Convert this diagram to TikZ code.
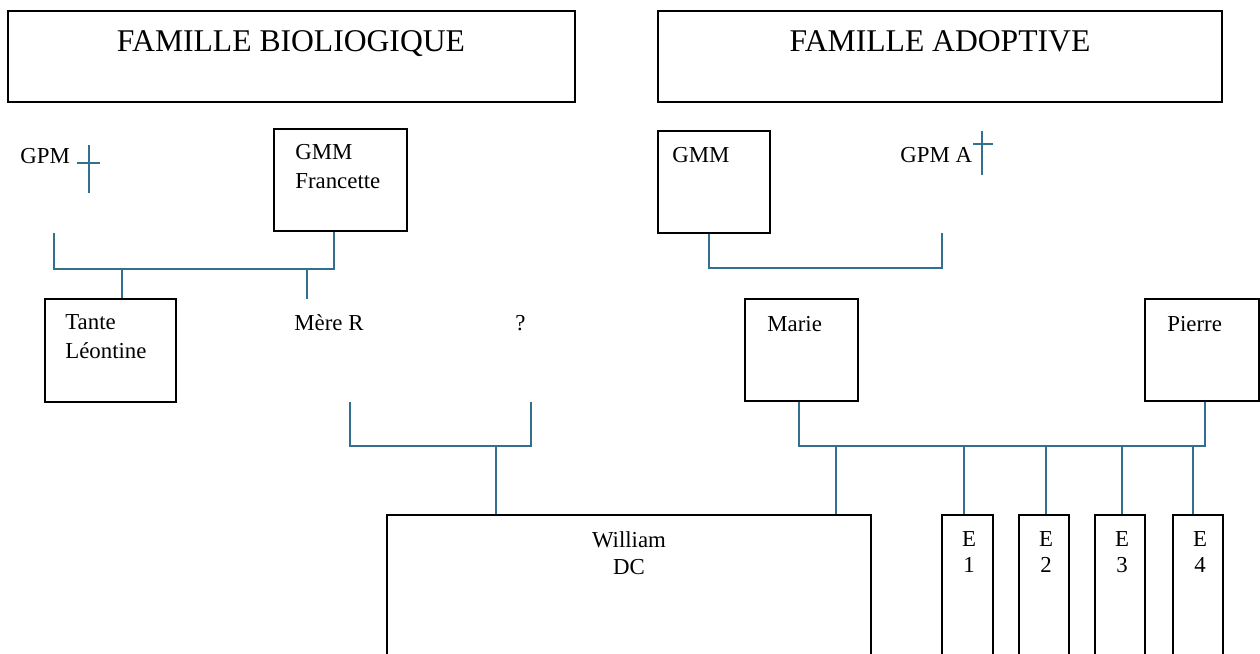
\documentclass[tikz,border=0pt]{standalone}
\usepackage{fontspec}
\setmainfont{Liberation Serif}
\usetikzlibrary{fit}
\definecolor{linkc}{RGB}{49,112,143}
\begin{document}
\begin{tikzpicture}[x=0.02cm,y=-0.02cm,
  box/.style={draw=black, line width=0.7pt, inner sep=0pt},
  link/.style={draw=linkc, line width=0.8pt},
  lbl/.style={font=\fontsize{13}{16}\selectfont, inner sep=0pt, anchor=base west, align=left},
  clbl/.style={font=\fontsize{13}{15.3}\selectfont, inner sep=0pt, anchor=base, align=center},
  elbl/.style={font=\fontsize{13}{14.3}\selectfont, inner sep=0pt, anchor=base, align=center},
  ttl/.style={font=\fontsize{18}{22}\selectfont, inner sep=0pt, anchor=base}]
\useasboundingbox (0,0) rectangle (1260,653);
% title boxes
\node[box, fit={(8,11)(575,102)}] (bio) {};
\node[ttl] (biot) at (291,51) {FAMILLE BIOLIOGIQUE};
\node[box, fit={(658,11)(1222,102)}] (ado) {};
\node[ttl] (adot) at (940,51) {FAMILLE ADOPTIVE};
% biological family
\node[lbl] (gpm) at (20,163) {GPM};
\draw[link] (89,145) -- (89,193);
\draw[link] (77,163) -- (100,163);
\node[box, fit={(274,129)(407,231)}] (gmmf) {};
\node[lbl] (gmmft) at (295,188) {GMM\\Francette};
\node[box, fit={(45,299)(176,402)}] (tante) {};
\node[lbl] (tantet) at (65,358) {Tante\\Léontine};
\node[lbl] (mere) at (294,330) {Mère R};
\node[lbl] (unk) at (515,330) {?};
\coordinate (gpmdrop) at (54,233);
\coordinate (mereup) at (307,299);
\draw[link] (gpmdrop) |- (334,269) -- (334,0 |- gmmf.south);
\draw[link] (122,269) -- (tante.north -| 122,0);
\draw[link] (307,269) -- (mereup);
\coordinate (merebot) at (350,402);
\coordinate (unkbot) at (531,402);
\draw[link] (merebot) |- (531,446) -- (unkbot);
% William
\node[box, fit={(387,515)(871,662)}] (will) {};
\node[clbl] (willt) at (629,574) {William\\DC};
\draw[link] (496,446) -- (will.north -| 496,0);
% adoptive family
\node[box, fit={(658,131)(770,233)}] (gmma) {};
\node[lbl] (gmmat) at (672,162) {GMM};
\node[lbl] (gpma) at (900,162) {GPM A};
\draw[link] (982,131) -- (982,175);
\draw[link] (973,144) -- (993,144);
\coordinate (gpmadrop) at (942,233);
\draw[link] (gmma.south -| 709,0) |- (942,268) -- (gpmadrop);
\node[box, fit={(745,299)(858,401)}] (marie) {};
\node[lbl] (mariet) at (767,331) {Marie};
\node[box, fit={(1145,299)(1259,401)}] (pierre) {};
\node[lbl] (pierret) at (1167,331) {Pierre};
\draw[link] (marie.south -| 799,0) |- (1205,446) -- (pierre.south -| 1205,0);
\draw[link] (836,446) -- (will.north -| 836,0);
% children
\node[box, fit={(942,515)(993,662)}] (e1) {};
\node[box, fit={(1019,515)(1069,662)}] (e2) {};
\node[box, fit={(1095,515)(1145,662)}] (e3) {};
\node[box, fit={(1173,515)(1223,662)}] (e4) {};
\node[elbl] (e1t) at (969,572) {E\\1};
\node[elbl] (e2t) at (1046,572) {E\\2};
\node[elbl] (e3t) at (1122,572) {E\\3};
\node[elbl] (e4t) at (1200,572) {E\\4};
\draw[link] (964,446) -- (e1.north -| 964,0);
\draw[link] (1046,446) -- (e2.north -| 1046,0);
\draw[link] (1122,446) -- (e3.north -| 1122,0);
\draw[link] (1193,446) -- (e4.north -| 1193,0);
\end{tikzpicture}
\end{document}
